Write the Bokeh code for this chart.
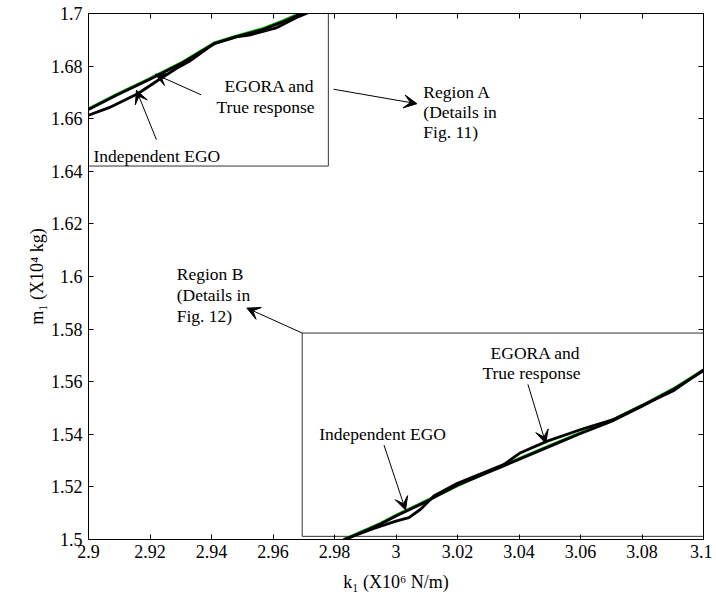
from bokeh.plotting import figure
from bokeh.models import (Range1d, FixedTicker, LinearAxis, Label, Arrow,
                          VeeHead, ColumnDataSource)
from bokeh.embed import file_html
from bokeh.resources import INLINE

# ---------------- data ----------------
x_ticks = [2.9, 2.92, 2.94, 2.96, 2.98, 3.0, 3.02, 3.04, 3.06, 3.08, 3.1]
x_tick_labels = ["2.9", "2.92", "2.94", "2.96", "2.98", "3", "3.02", "3.04",
                 "3.06", "3.08", "3.1"]
y_ticks = [1.5, 1.52, 1.54, 1.56, 1.58, 1.6, 1.62, 1.64, 1.66, 1.68, 1.7]
y_tick_labels = ["1.5", "1.52", "1.54", "1.56", "1.58", "1.6", "1.62", "1.64",
                 "1.66", "1.68", "1.7"]

x_label = "k\u2081 (X10\u2076 N/m)"
y_label = "m\u2081 (X10\u2074 kg)"

# upper branch (Region A)
true_k_up = [2.9, 2.9089, 2.9198, 2.9306, 2.9409, 2.948, 2.9567, 2.9632, 2.9686, 2.972]
true_m_up = [1.6638, 1.6691, 1.6752, 1.6816, 1.6888, 1.6914, 1.6943, 1.6972, 1.7, 1.7014]
egora_k_up = [2.9, 2.9089, 2.9198, 2.9306, 2.9409, 2.948, 2.9567, 2.9632, 2.9686, 2.972]
egora_m_up = [1.6635, 1.6688, 1.6749, 1.6813, 1.6885, 1.6911, 1.6939, 1.6968, 1.6996, 1.7011]
indep_k_up = [2.9, 2.9067, 2.916, 2.923, 2.9284, 2.9328, 2.9409, 2.948, 2.9523, 2.961, 2.9675, 2.972]
indep_m_up = [1.6613, 1.6642, 1.6695, 1.6749, 1.6790, 1.6818, 1.6886, 1.6911, 1.6918, 1.6945, 1.6984, 1.7006]

# lower branch (Region B)
true_k_lo = [2.983, 2.995, 3.0, 3.01, 3.02, 3.035, 3.05, 3.06, 3.07, 3.08, 3.09, 3.1]
true_m_lo = [1.5, 1.5062, 1.5092, 1.5148, 1.5204, 1.5283, 1.5357, 1.5406, 1.5452, 1.5510, 1.5572, 1.5645]
egora_k_lo = [2.983, 2.995, 3.0, 3.01, 3.02, 3.035, 3.05, 3.06, 3.07, 3.08, 3.09, 3.1]
egora_m_lo = [1.4997, 1.5059, 1.5089, 1.5145, 1.5207, 1.5280, 1.5354, 1.5403, 1.5449, 1.5507, 1.5569, 1.5642]
indep_k_lo = [2.983, 2.9928, 3.0, 3.0042, 3.008, 3.0124, 3.02, 3.035, 3.0405, 3.0492,
              3.0611, 3.0709, 3.0796, 3.085, 3.0904, 3.1]
indep_m_lo = [1.5, 1.5042, 1.5070, 1.5083, 1.5115, 1.5166, 1.5214, 1.5285, 1.5330, 1.5374,
              1.5422, 1.5457, 1.5507, 1.5537, 1.5567, 1.5645]

# region boxes
box_left = [2.9, 2.9695]
box_right = [2.978, 3.1]
box_bottom = [1.642, 1.5012]
box_top = [1.7, 1.5785]

# annotation texts
ann_text = ["EGORA and", "True response", "Independent EGO",
            "Region A", "(Details in", "Fig. 11)",
            "Region B", "(Details in", "Fig. 12)",
            "EGORA and", "True response", "Independent EGO"]
ann_x = [2.9735, 2.9735, 2.9016,
         3.0089, 3.0089, 3.0089,
         2.9287, 2.9287, 2.9287,
         3.0600, 3.0600, 2.9750]
ann_y = [1.6723, 1.6644, 1.6460,
         1.6703, 1.6627, 1.6551,
         1.6010, 1.5930, 1.5850,
         1.5709, 1.5632, 1.5400]
ann_align = ["right", "right", "left",
             "left", "left", "left",
             "left", "left", "left",
             "right", "right", "left"]

# arrows
arr_x0 = [2.9366, 2.9221, 2.9797, 2.9695, 3.0429, 2.9961]
arr_y0 = [1.6691, 1.6520, 1.6712, 1.5785, 1.5590, 1.5359]
arr_x1 = [2.9217, 2.9156, 3.0068, 2.9515, 3.0487, 3.0031]
arr_y1 = [1.6769, 1.6708, 1.6657, 1.5880, 1.5366, 1.5112]

FONT = "Liberation Serif"

p = figure(width=712, height=595, output_backend="svg", toolbar_location=None,
           x_range=Range1d(2.9, 3.1), y_range=Range1d(1.5, 1.7),
           min_border_left=88, min_border_right=9, min_border_top=13,
           min_border_bottom=56)
p.xgrid.visible = False
p.ygrid.visible = False
p.outline_line_color = "black"
p.background_fill_color = "white"
p.border_fill_color = "white"


def style_axis(ax, ticks, labels, show_labels=True):
    ax.ticker = FixedTicker(ticks=ticks)
    ax.major_tick_in = 5
    ax.major_tick_out = 0
    ax.minor_tick_line_color = None
    ax.axis_line_color = "black"
    ax.major_tick_line_color = "black"
    ax.major_label_text_font = FONT
    ax.major_label_text_color = "black"
    if show_labels:
        ax.major_label_overrides = {t: l for t, l in zip(ticks, labels)}
        ax.major_label_text_font_size = "18px"
        ax.major_label_standoff = 6
    else:
        ax.major_label_overrides = {t: "" for t in ticks}
        ax.major_label_text_font_size = "1px"
        ax.major_label_standoff = 0


bottom_ax = p.xaxis[0]
left_ax = p.yaxis[0]
style_axis(bottom_ax, x_ticks, x_tick_labels)
style_axis(left_ax, y_ticks, y_tick_labels)
bottom_ax.major_label_standoff = 5
top_ax = LinearAxis()
right_ax = LinearAxis()
style_axis(top_ax, x_ticks, x_tick_labels, show_labels=False)
style_axis(right_ax, y_ticks, y_tick_labels, show_labels=False)
p.add_layout(top_ax, "above")
p.add_layout(right_ax, "right")

for ax, lab, so in [(bottom_ax, x_label, 11), (left_ax, y_label, 1)]:
    ax.axis_label = lab
    ax.axis_label_text_font = FONT
    ax.axis_label_text_font_size = "18px"
    ax.axis_label_text_font_style = "normal"
    ax.axis_label_text_color = "black"
    ax.axis_label_standoff = so

# region boxes
p.quad(left=box_left, right=box_right, bottom=box_bottom, top=box_top,
       fill_color=None, line_color="#333333", line_width=1)

# curves: true response (green) underneath, EGORA and independent EGO (black)
for kk, mm in [(true_k_up, true_m_up), (true_k_lo, true_m_lo)]:
    p.line(kk, mm, line_color="#00b000", line_width=2.8)
for kk, mm in [(egora_k_up, egora_m_up), (indep_k_up, indep_m_up),
               (egora_k_lo, egora_m_lo), (indep_k_lo, indep_m_lo)]:
    p.line(kk, mm, line_color="black", line_width=2.8)

# arrows
arr_src = ColumnDataSource(dict(x0=arr_x0, y0=arr_y0, x1=arr_x1, y1=arr_y1))
p.add_layout(Arrow(source=arr_src, x_start="x0", y_start="y0", x_end="x1", y_end="y1",
                   line_color="black", line_width=1,
                   end=VeeHead(size=13, fill_color="black", line_color="black",
                               line_width=1)))

# annotation labels
for t, x, y, a in zip(ann_text, ann_x, ann_y, ann_align):
    p.add_layout(Label(x=x, y=y, text=t, text_align=a, text_baseline="middle",
                       text_font=FONT, text_font_size="17.5px", text_color="black"))

open("out.html", "w").write(file_html(p, INLINE))
